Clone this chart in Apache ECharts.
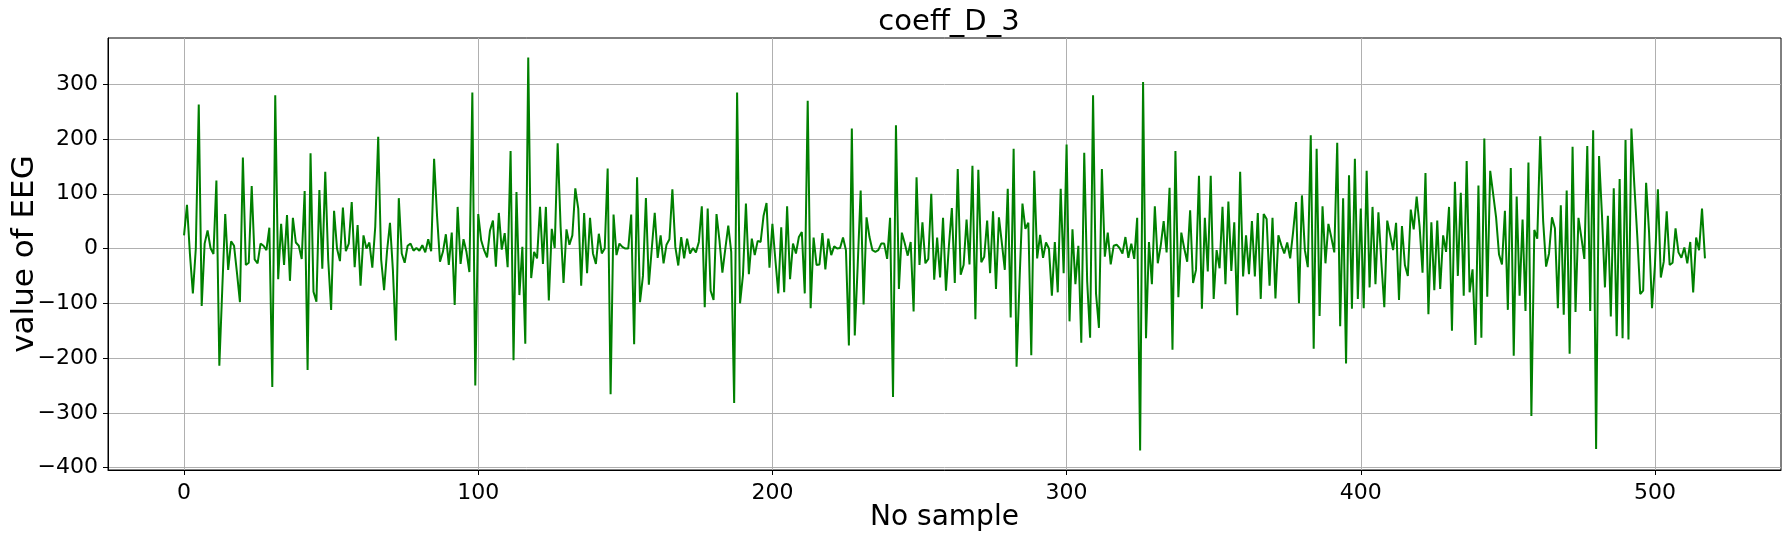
<!DOCTYPE html>
<html>
<head>
<meta charset="utf-8">
<script src="https://cdn.jsdelivr.net/npm/echarts@6/dist/echarts.min.js"></script>
<style>
  html, body { margin: 0; padding: 0; background: #fff; }
  #chart { width: 1788px; height: 538px; }
</style>
</head>
<body>
<div id="chart"></div>
<script>
// coeff_D_3 values (sample 0..517)
var eegValues = [
  24, 80, -10, -82, 0, 263, -105, 9, 33, 1,
  -10, 124, -214, -73, 63, -39, 13, 5, -45, -98,
  166, -30, -26, 114, -20, -27, 9, 5, -3, 38,
  -253, 280, -56, 45, -30, 61, -59, 56, 11, 5,
  -19, 105, -222, 174, -79, -97, 107, -37, 140, -20,
  -112, 69, 0, -23, 75, -5, 9, 85, -34, 43,
  -68, 24, 0, 11, -35, 40, 204, -20, -76, -5,
  47, -40, -168, 92, -9, -26, 5, 9, -4, 1,
  -4, 6, -7, 17, -5, 164, 60, -24, -6, 26,
  -30, 29, -103, 76, -28, 17, -6, -43, 285, -250,
  63, 15, -3, -16, 33, 51, -33, 65, -2, 28,
  -34, 178, -204, 103, -85, 3, -174, 349, -54, -6,
  -18, 76, -28, 76, -95, 36, 1, 192, 40, -63,
  35, 7, 24, 110, 73, -68, 65, -45, 56, -9,
  -28, 27, -9, 0, 146, -266, 62, -12, 9, 3,
  0, 0, 62, -175, 130, -98, -50, 92, -66, 0,
  65, -17, 24, -27, 7, 17, 108, 3, -31, 21,
  -18, 18, -9, 1, -7, 12, 77, -107, 73, -77,
  -94, 63, 15, -44, 0, 42, -6, -282, 285, -100,
  -48, 82, -47, 18, -12, 14, 12, 60, 83, -35,
  45, -20, -82, 39, -80, 77, -56, 9, -9, 21,
  30, -82, 270, -109, 20, -30, -29, 28, -38, 18,
  -12, 4, 0, 1, 20, -3, -177, 219, -159, -30,
  106, -102, 57, 21, -3, -6, -3, 9, 9, -19,
  56, -271, 225, -74, 29, 9, -13, 12, -115, 130,
  -30, 48, -27, -19, 100, -57, 20, -53, 56, -77,
  5, 74, -63, 145, -48, -30, 53, -29, 151, -129,
  144, -25, -15, 51, -45, 68, -74, 57, 10, -39,
  109, -126, 182, -216, -60, 82, 36, 47, -195, 142,
  -18, 25, -17, 11, 0, -86, 12, -80, 109, -45,
  190, -133, 35, -65, 5, -172, 175, -60, -163, 280,
  -82, -145, 145, -15, 29, -29, 5, 7, 1, -9,
  21, -17, 9, -19, 56, -369, 304, -164, 12, -65,
  77, -27, 5, 50, -7, 111, -185, 178, -89, 29,
  0, -24, 70, -63, -39, 133, -110, 56, -42, 133,
  -92, -3, -36, 76, -65, 86, -41, 48, -122, 140,
  -51, 24, -47, 50, -51, 65, -92, 63, 54, -68,
  56, -91, 24, 6, -9, 11, -18, 30, 85, -100,
  97, -3, -34, 207, -183, 182, -123, 77, -27, 45,
  20, -7, 193, -142, 92, -210, 134, -110, 164, -92,
  73, -109, 142, -71, 76, -65, 66, -25, -107, 51,
  25, -3, 47, -94, 41, -30, -50, 71, 35, 95,
  40, -44, 138, -120, 48, -76, 51, -74, 24, -6,
  76, -150, 122, -50, 102, -86, 160, -80, -38, -176,
  115, -163, 201, -88, 142, 100, 57, -11, -29, 69,
  -112, 147, -196, 95, -86, 53, -114, 157, -306, 34,
  18, 205, 50, -33, -9, 57, 37, -109, 79, -121,
  106, -192, 186, -116, 56, 20, -19, 187, -114, 216,
  -366, 169, 60, -71, 60, -124, 110, -160, 127, -164,
  198, -166, 219, 115, 22, -83, -77, 120, 30, -109,
  -30, 108, -53, -24, 68, -30, -26, 37, -7, -17,
  2, -27, 12, -80, 20, -3, 73, -18
];

var chart = echarts.init(document.getElementById('chart'));
var font = 'DejaVu Sans';

// x is just the sample number
var seriesData = eegValues.map(function (v, i) { return [i, v]; });

function minusFmt(v) {
  return String(v).replace('-', '\u2212');
}

var option = {
  animation: false,
  backgroundColor: '#fff',
  title: {
    text: 'coeff_D_3',
    left: 944,
    textAlign: 'center',
    top: 3,
    textStyle: { fontFamily: font, fontSize: 29, fontWeight: 'normal', color: '#000' }
  },
  grid: {
    left: 108, top: 38, width: 1673, height: 432,
    outerBoundsMode: 'none',
    containLabel: false,
    show: true, borderColor: '#000', borderWidth: 1, backgroundColor: 'transparent'
  },
  xAxis: {
    type: 'value',
    min: -25.85,
    max: 542.85,
    splitNumber: 5,
    name: 'No sample',
    nameLocation: 'middle',
    nameGap: 34,
    nameMoveOverlap: false,
    nameTextStyle: { fontFamily: font, fontSize: 28, color: '#000', verticalAlign: 'top' },
    axisLine: { show: true, onZero: false, lineStyle: { color: '#000', width: 1 } },
    axisTick: { show: true, length: 5, lineStyle: { color: '#000' } },
    axisLabel: {
      fontFamily: font, fontSize: 22, color: '#000', margin: 12,
      showMinLabel: false, showMaxLabel: false,
      formatter: minusFmt
    },
    splitLine: { show: true, showMinLine: false, showMaxLine: false, lineStyle: { color: '#b0b0b0', width: 1 } }
  },
  yAxis: {
    type: 'value',
    min: -404.5,
    max: 384.5,
    splitNumber: 8,
    name: 'value of EEG',
    nameLocation: 'middle',
    nameGap: 68,
    nameMoveOverlap: false,
    nameTextStyle: { fontFamily: font, fontSize: 31, color: '#000' },
    axisLine: { show: true, onZero: false, lineStyle: { color: '#000', width: 1 } },
    axisTick: { show: true, length: 5, lineStyle: { color: '#000' } },
    axisLabel: {
      fontFamily: font, fontSize: 22, color: '#000', margin: 10,
      showMinLabel: false, showMaxLabel: false,
      formatter: minusFmt
    },
    splitLine: { show: true, showMinLine: false, showMaxLine: false, lineStyle: { color: '#b0b0b0', width: 1 } }
  },
  series: [{
    type: 'line',
    data: seriesData,
    showSymbol: false,
    symbol: 'none',
    lineStyle: { color: '#008000', width: 2 },
    z: 3
  }]
};

chart.setOption(option);
</script>
</body>
</html>
